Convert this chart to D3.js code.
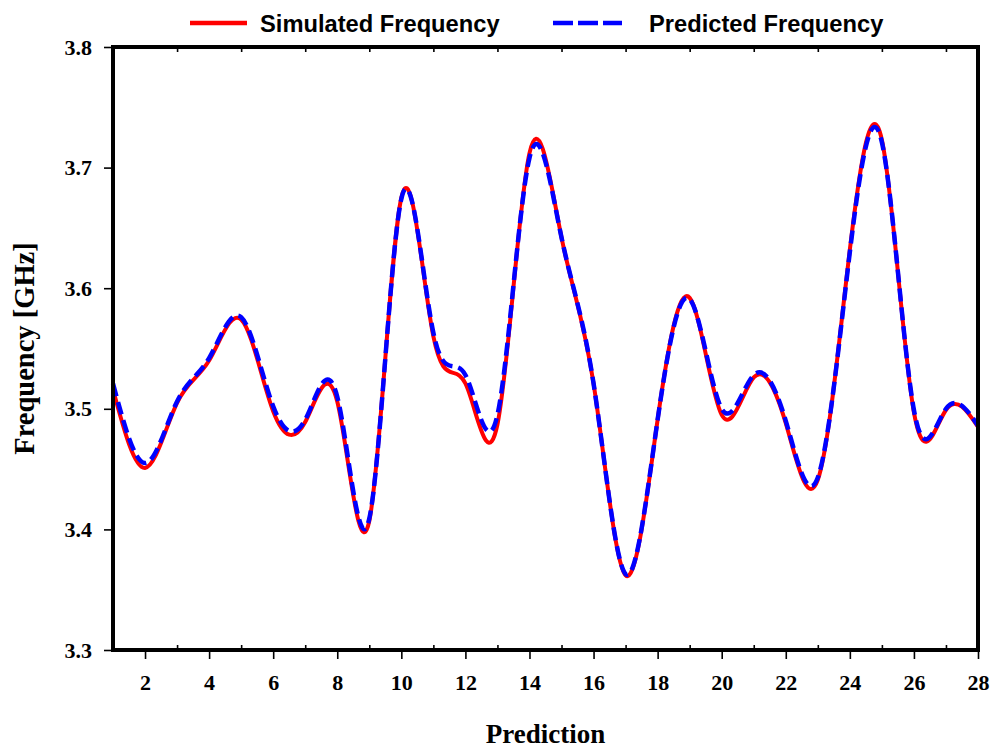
<!DOCTYPE html>
<html>
<head>
<meta charset="utf-8">
<script src="https://cdn.jsdelivr.net/npm/d3@7"></script>
<style>
    body { margin: 0; background: #fff; }
    svg { display: block; }
</style>
</head>
<body>
<div id="chart"></div>
<script>
// prediction index 1..28
const predictions = d3.range(1, 29);

const simulated = [3.516, 3.451, 3.505, 3.540, 3.574, 3.498, 3.489, 3.506, 3.407, 3.675,
    3.560, 3.521, 3.487, 3.712, 3.642, 3.521, 3.362, 3.491, 3.592, 3.495,
    3.526, 3.488, 3.441, 3.632, 3.723, 3.497, 3.499, 3.485];

const predicted = [3.521, 3.455, 3.506, 3.542, 3.576, 3.502, 3.491, 3.510, 3.409, 3.674,
    3.563, 3.528, 3.495, 3.708, 3.642, 3.521, 3.363, 3.491, 3.591, 3.500,
    3.528, 3.490, 3.443, 3.630, 3.721, 3.499, 3.500, 3.486];

const xMajor = d3.range(2, 29, 2);
const xMinor = d3.range(3, 28, 2);
const yTicks = [3.3, 3.4, 3.5, 3.6, 3.7, 3.8];

const seriesNames = ["Simulated Frequency", "Predicted Frequency"];

const width = 990, height = 749;
const margin = { top: 47, right: 12, bottom: 99, left: 113 };

const svg = d3.select("#chart").append("svg")
    .attr("width", width)
    .attr("height", height);

const x = d3.scaleLinear().domain([1, 28]).range([margin.left, width - margin.right]);
const y = d3.scaleLinear().domain([3.3, 3.8]).range([height - margin.bottom, margin.top]);

const serif = "'Liberation Serif', 'Times New Roman', serif";
const sans = "'Liberation Sans', Arial, sans-serif";

// bottom axis: even labels with outward ticks
const xAxis = svg.append("g")
    .attr("transform", `translate(0,${y(3.3)})`)
    .call(d3.axisBottom(x).tickValues(xMajor).tickSize(9).tickPadding(15).tickFormat(d3.format("d")));
xAxis.select(".domain").remove();
xAxis.selectAll(".tick line").attr("stroke-width", 1.6);
xAxis.selectAll("text")
    .style("font-family", serif)
    .style("font-weight", "bold")
    .style("font-size", "22px");

// minor inward ticks at bottom and top
svg.append("g")
    .attr("transform", `translate(0,${y(3.3)})`)
    .call(d3.axisTop(x).tickValues(xMinor).tickSize(5).tickFormat(""))
    .call(g => g.select(".domain").remove())
    .selectAll(".tick line").attr("stroke-width", 1.6);

svg.append("g")
    .attr("transform", `translate(0,${y(3.8)})`)
    .call(d3.axisBottom(x).tickValues(xMinor).tickSize(5).tickFormat(""))
    .call(g => g.select(".domain").remove())
    .selectAll(".tick line").attr("stroke-width", 1.6);

// left axis
const yAxis = svg.append("g")
    .attr("transform", `translate(${x(1)},0)`)
    .call(d3.axisLeft(y).tickValues(yTicks).tickSize(9).tickPadding(12).tickFormat(d3.format(".1f")));
yAxis.select(".domain").remove();
yAxis.selectAll(".tick line").attr("stroke-width", 1.6);
yAxis.selectAll("text")
    .style("font-family", serif)
    .style("font-weight", "bold")
    .style("font-size", "22px");

// lines
const line = d3.line()
    .x((d, i) => x(predictions[i]))
    .y(d => y(d))
    .curve(d3.curveNatural);

svg.append("path")
    .datum(simulated)
    .attr("fill", "none")
    .attr("stroke", "#ff0000")
    .attr("stroke-width", 4)
    .attr("d", line);

svg.append("path")
    .datum(predicted)
    .attr("fill", "none")
    .attr("stroke", "#0000ff")
    .attr("stroke-width", 4.5)
    .attr("stroke-dasharray", "13,6")
    .attr("d", line);

// frame
svg.append("rect")
    .attr("x", x(1))
    .attr("y", y(3.8))
    .attr("width", x(28) - x(1))
    .attr("height", y(3.3) - y(3.8))
    .attr("fill", "none")
    .attr("stroke", "#000")
    .attr("stroke-width", 4);

// axis titles
svg.append("text")
    .attr("x", (x(1) + x(28)) / 2)
    .attr("y", 743)
    .attr("text-anchor", "middle")
    .style("font-family", serif)
    .style("font-weight", "bold")
    .style("font-size", "27px")
    .text("Prediction");

svg.append("text")
    .attr("transform", `translate(34,${(y(3.3) + y(3.8)) / 2}) rotate(-90)`)
    .attr("text-anchor", "middle")
    .style("font-family", serif)
    .style("font-weight", "bold")
    .style("font-size", "28.5px")
    .text("Frequency [GHz]");

// legend
const legend = svg.append("g");
legend.append("line")
    .attr("x1", 190).attr("x2", 247).attr("y1", 23).attr("y2", 23)
    .attr("stroke", "#ff0000").attr("stroke-width", 4.5);
legend.append("text")
    .attr("x", 260).attr("y", 32)
    .style("font-family", sans).style("font-weight", "bold").style("font-size", "23.7px")
    .text(seriesNames[0]);
legend.append("line")
    .attr("x1", 553).attr("x2", 622).attr("y1", 23).attr("y2", 23)
    .attr("stroke", "#0000ff").attr("stroke-width", 4.5)
    .attr("stroke-dasharray", "20,5");
legend.append("text")
    .attr("x", 649).attr("y", 32)
    .style("font-family", sans).style("font-weight", "bold").style("font-size", "23.7px")
    .text(seriesNames[1]);
</script>
</body>
</html>
